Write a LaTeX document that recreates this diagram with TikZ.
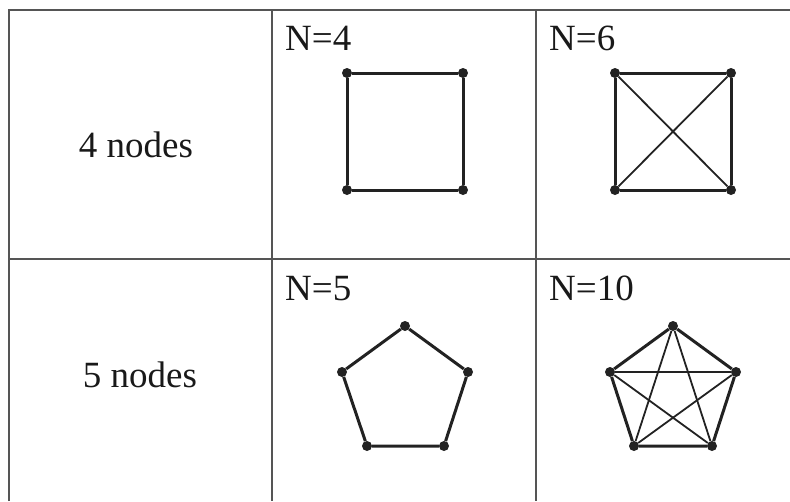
\documentclass[tikz,border=0pt]{standalone}
\usepackage{fontspec}
\setmainfont{Liberation Serif}
\definecolor{gridc}{HTML}{555555}
\definecolor{edgec}{HTML}{222222}
\tikzset{
  x=1pt,y=-1pt,
  grid/.style={draw=gridc,line width=2pt},
  dot/.style={circle,fill=edgec,inner sep=0pt,minimum size=10pt},
  thick edge/.style={draw=edgec,line width=3pt},
  thin edge/.style={draw=edgec,line width=1.8pt},
  lbl/.style={font=\fontsize{37}{40}\selectfont,inner sep=0pt,text=black!90}
}
\begin{document}
\begin{tikzpicture}
\useasboundingbox (0,0) rectangle (790,501);
% table
\draw[grid] (9,501) -- (9,10) -- (791,10);
\draw[grid] (272,10) -- (272,501);
\draw[grid] (536,10) -- (536,501);
\draw[grid] (9,259) -- (791,259);
% labels
\node[lbl,anchor=base] (r1) at (136,157.3) {4 nodes};
\node[lbl,anchor=base] (r2) at (140,387.3) {5 nodes};
\node[lbl,anchor=base west] (l1) at (285,50.7) {N=4};
\node[lbl,anchor=base west] (l2) at (549,50.7) {N=6};
\node[lbl,anchor=base west] (l3) at (285,300) {N=5};
\node[lbl,anchor=base west] (l4) at (549,300) {N=10};
% C4
\node[dot] (a1) at (347,73) {};
\node[dot] (a2) at (463,73) {};
\node[dot] (a3) at (463,190) {};
\node[dot] (a4) at (347,190) {};
\draw[thick edge] (a1) -- (a2) -- (a3) -- (a4) -- (a1);
% K4
\node[dot] (b1) at (615,73) {};
\node[dot] (b2) at (731,73) {};
\node[dot] (b3) at (731,190) {};
\node[dot] (b4) at (615,190) {};
\draw[thick edge] (b1) -- (b2) -- (b3) -- (b4) -- (b1);
\draw[thin edge] (b1) -- (b3);
\draw[thin edge] (b2) -- (b4);
% C5
\node[dot] (c1) at (405,326) {};
\node[dot] (c2) at (468,372) {};
\node[dot] (c3) at (444,446) {};
\node[dot] (c4) at (367,446) {};
\node[dot] (c5) at (342,372) {};
\draw[thick edge] (c1) -- (c2) -- (c3) -- (c4) -- (c5) -- (c1);
% K5
\node[dot] (d1) at (673,326) {};
\node[dot] (d2) at (736,372) {};
\node[dot] (d3) at (712,446) {};
\node[dot] (d4) at (634,446) {};
\node[dot] (d5) at (610,372) {};
\draw[thick edge] (d1) -- (d2) -- (d3) -- (d4) -- (d5) -- (d1);
\draw[thin edge] (d1) -- (d3);
\draw[thin edge] (d1) -- (d4);
\draw[thin edge] (d2) -- (d4);
\draw[thin edge] (d2) -- (d5);
\draw[thin edge] (d3) -- (d5);
\end{tikzpicture}
\end{document}
